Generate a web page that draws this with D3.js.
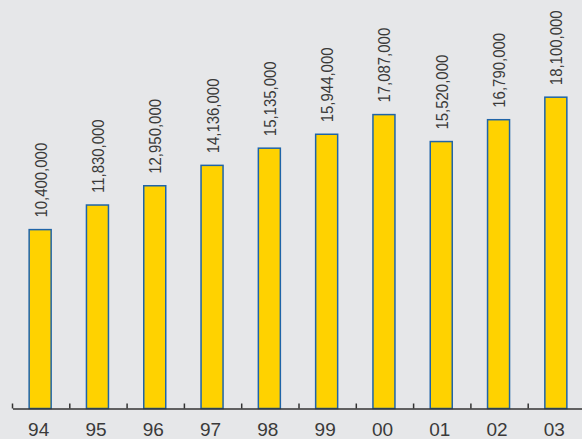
<!DOCTYPE html>
<html>
<head>
<meta charset="utf-8">
<script src="https://cdn.jsdelivr.net/npm/d3@7/dist/d3.min.js"></script>
<style>
  html, body { margin: 0; padding: 0; background: #e6e7e9; }
  svg { display: block; }
  text { font-family: "Liberation Sans", Arial, Helvetica, sans-serif; fill: #3a3a3a; }
</style>
</head>
<body>
<svg id="chart" width="582" height="439"></svg>
<script>
// Yearly totals, 1994–2003
const years = ["94", "95", "96", "97", "98", "99", "00", "01", "02", "03"];
const values = [10400000, 11830000, 12950000, 14136000, 15135000, 15944000, 17087000, 15520000, 16790000, 18100000];

const width = 582, height = 439;
const baseline = 408.5;
const svg = d3.select("#chart");

svg.append("rect").attr("width", width).attr("height", height).attr("fill", "#e6e7e9");

const x = d3.scaleBand().domain(years).range([12.5, 585.5]).paddingInner(0).paddingOuter(0);
const y = d3.scaleLinear().domain([0, 20000000]).range([baseline, baseline - 344]);

const barW = 22;
const fmt = d3.format(",");
const center = k => x(k) + x.bandwidth() / 2 - 1;

// bars
svg.append("g").selectAll("rect")
  .data(values)
  .join("rect")
  .attr("x", (d, i) => center(years[i]) - barW / 2)
  .attr("y", d => y(d))
  .attr("width", barW)
  .attr("height", d => baseline - y(d))
  .attr("fill", "#ffd200")
  .attr("stroke", "#1f64a8")
  .attr("stroke-width", 1.5);

// value labels, rotated and condensed along the reading direction
svg.append("g").selectAll("text")
  .data(values)
  .join("text")
  .attr("transform", (d, i) => `translate(${center(years[i]) + 6.5},${y(d) - 12}) rotate(-90) scale(0.88,1)`)
  .attr("text-anchor", "start")
  .style("font-size", "17px")
  .text(d => fmt(d));

// x axis
const axis = d3.axisBottom(x).tickSize(0).tickPadding(14.5);
const gx = svg.append("g").attr("transform", `translate(0,${baseline})`).call(axis);
gx.select(".domain").attr("stroke", "#333").attr("stroke-width", 1.5);
gx.selectAll(".tick text").style("font-size", "19px").attr("fill", "#3a3a3a")
  .attr("x", -2.5);

// small inward tick marks at the band boundaries
svg.append("g").selectAll("line")
  .data(years)
  .join("line")
  .attr("x1", d => x(d))
  .attr("x2", d => x(d))
  .attr("y1", baseline)
  .attr("y2", baseline - 5)
  .attr("stroke", "#333")
  .attr("stroke-width", 1.5);
</script>
</body>
</html>
